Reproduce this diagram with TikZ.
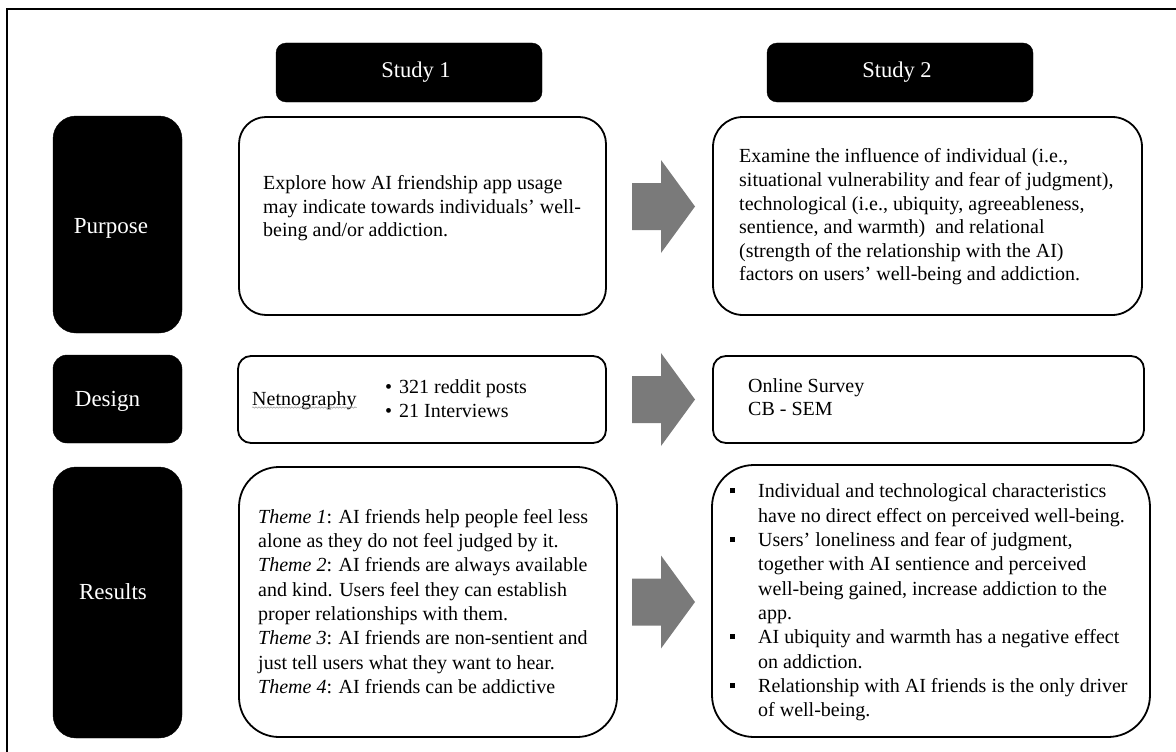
\documentclass[tikz,border=0pt]{standalone}
\usepackage{fontspec}
\setmainfont{Liberation Serif}
\usetikzlibrary{decorations.pathmorphing}
\definecolor{arrowgray}{RGB}{122,122,122}
\newcommand\sqitem{\makebox[28pt][l]{\raisebox{4.5pt}{\rule{5pt}{5pt}}}}
\newcommand\contind{\hspace*{28pt}}
\newcommand\dotitem{\makebox[14pt][l]{•}}
\tikzset{
  blackbox/.style={fill=black, draw=black, inner sep=0pt},
  whitebox/.style={draw=black, line width=1.8pt, fill=white, inner sep=0pt},
  bodytext/.style={inner sep=0pt, align=left, anchor=west, font=\fontsize{20}{23.6}\selectfont},
  bodytextb/.style={inner sep=0pt, align=left, anchor=west, font=\fontsize{20}{24.3}\selectfont},
  rowlabel/.style={text=white, inner sep=0pt, font=\fontsize{23}{27}\selectfont},
  blockarrow/.style={fill=arrowgray},
}
\newcommand\drawblockarrow[1]{%
  \fill[blockarrow, shift={(#1)}] (-31.5,-23.5) -- (-2.5,-23.5) -- (-2.5,-46.5) -- (31.5,0)
     -- (-2.5,46.5) -- (-2.5,23.5) -- (-31.5,23.5) -- cycle;}
\begin{document}
\begin{tikzpicture}[x=1pt,y=-1pt]
\useasboundingbox (0,0) rectangle (1176,752);
% outer frame
\coordinate (fbl) at (7,752);
\coordinate (ftl) at (7,9);
\coordinate (ftr) at (1176,9);
\draw[line width=1.6pt] (fbl) -- (ftl) -- (ftr);

% headers
\node[blackbox, rounded corners=10pt, minimum width=266pt, minimum height=59pt] (h1) at (409,72.5) {};
\node[blackbox, rounded corners=10pt, minimum width=266pt, minimum height=59pt] (h2) at (900,72.5) {};
\node[rowlabel, font=\fontsize{22.5}{27}\selectfont] (h1t) at (416,72) {Study 1};
\node[rowlabel, font=\fontsize{22.5}{27}\selectfont] (h2t) at (897,72) {Study 2};

% row labels
\node[blackbox, rounded corners=23pt, minimum width=129pt, minimum height=217pt] (lp) at (117.5,224.5) {};
\node[blackbox, rounded corners=14pt, minimum width=129pt, minimum height=88pt] (ld) at (117.5,399) {};
\node[blackbox, rounded corners=23pt, minimum width=129pt, minimum height=271pt] (lr) at (117.5,602.5) {};
\node[rowlabel] (lpt) at (111,228) {Purpose};
\node[rowlabel] (ldt) at (107.5,401) {Design};
\node[rowlabel] (lrt) at (113,592) {Results};

% study 1 boxes
\node[whitebox, rounded corners=27pt, minimum width=367pt, minimum height=198pt] (p1) at (422.5,216) {};
\node[whitebox, rounded corners=13pt, minimum width=368pt, minimum height=87pt] (d1) at (422,399.5) {};
\node[whitebox, rounded corners=40pt, minimum width=378pt, minimum height=270pt] (r1) at (428,602) {};

% study 2 boxes
\node[whitebox, rounded corners=30pt, minimum width=429pt, minimum height=198pt] (p2) at (927.5,216) {};
\node[whitebox, rounded corners=13pt, minimum width=431pt, minimum height=87pt] (d2) at (928.5,399.5) {};
\node[whitebox, rounded corners=42pt, minimum width=438pt, minimum height=272pt] (r2) at (931,601) {};

% arrows
\coordinate (a1) at (663.5,206.5);
\coordinate (a2) at (663.5,399.5);
\coordinate (a3) at (663.5,602);
\drawblockarrow{a1}
\drawblockarrow{a2}
\drawblockarrow{a3}

% texts
\node[bodytext] (p1t) at (263,208.5) {Explore how AI friendship app usage\\may indicate towards individuals’ well-\\being and/or addiction.};
\node[bodytext] (p2t) at (739,217) {Examine the influence of individual (i.e.,\\situational vulnerability and fear of judgment),\\technological (i.e., ubiquity, agreeableness,\\sentience, and warmth)\ \ and relational\\(strength of the relationship with the AI)\\factors on users’ well-being and addiction.};

\node[bodytext, anchor=base west] (net) at (252,405) {Netnography};
\draw[gray!80, line width=0.5pt, decorate, decoration={snake, amplitude=0.7pt, segment length=3pt}]
  ([yshift=-2.5pt]net.base west) -- ([yshift=-2.5pt]net.base east);
\node[bodytext] (d1t) at (385,398.5) {\dotitem 321 reddit posts\\\dotitem 21 Interviews};
\node[bodytext] (d2t) at (748,397) {Online Survey\\CB - SEM};

\node[bodytextb] (r1t) at (258,601.5) {\textit{Theme 1}: AI friends help people feel less\\alone as they do not feel judged by it.\\\textit{Theme 2}: AI friends are always available\\and kind. Users feel they can establish\\proper relationships with them.\\\textit{Theme 3}: AI friends are non-sentient and\\just tell users what they want to hear.\\\textit{Theme 4}: AI friends can be addictive};

\node[bodytextb] (r2t) at (730,602.5) {\sqitem Individual and technological characteristics\\\contind have no direct effect on perceived well-being.\\\sqitem Users’ loneliness and fear of judgment,\\\contind together with AI sentience and perceived\\\contind well-being gained, increase addiction to the\\\contind app.\\\sqitem AI ubiquity and warmth has a negative effect\\\contind on addiction.\\\sqitem Relationship with AI friends is the only driver\\\contind of well-being.};
\end{tikzpicture}
\end{document}
